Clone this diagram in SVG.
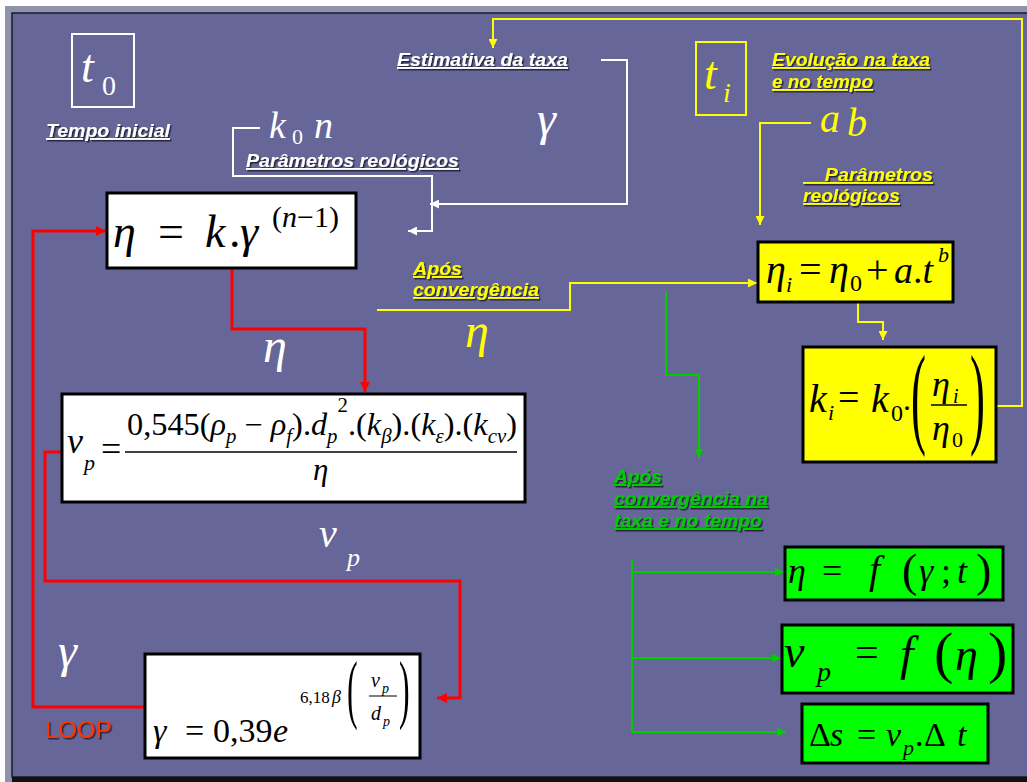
<svg xmlns="http://www.w3.org/2000/svg" width="1027" height="782" viewBox="0 0 1027 782">
<defs>
<style>
.lbl{font-family:"Liberation Sans",Arial,sans-serif;font-weight:bold;font-style:italic;font-size:19px;text-decoration:underline}
.w{fill:#ffffff}.y{fill:#ffff00}.g{fill:#00cc00}
.m{font-family:"Liberation Serif","Times New Roman",serif;font-style:italic}
.u{font-style:normal}
.k{fill:#000}
.box{stroke:#000;stroke-width:3}
.cw{fill:none;stroke:#ffffff;stroke-width:2}
.cy{fill:none;stroke:#ffff00;stroke-width:2}
.cr{fill:none;stroke:#ff0000;stroke-width:3}
.cg{fill:none;stroke:#00cc00;stroke-width:2}
</style>
<filter id="sh" x="-5%" y="-20%" width="115%" height="160%"><feDropShadow dx="1.5" dy="1.5" stdDeviation="0.4" flood-color="#1c1c30" flood-opacity="0.9"/></filter>
<marker id="aw" viewBox="0 0 10 10" refX="10" refY="5" markerWidth="9" markerHeight="9" markerUnits="userSpaceOnUse" orient="auto"><path d="M0,0 L10,5 L0,10 z" fill="#ffffff"/></marker>
<marker id="ay" viewBox="0 0 10 10" refX="10" refY="5" markerWidth="9" markerHeight="9" markerUnits="userSpaceOnUse" orient="auto"><path d="M0,0 L10,5 L0,10 z" fill="#ffff00"/></marker>
<marker id="ar" viewBox="0 0 10 10" refX="10" refY="5" markerWidth="10" markerHeight="10" markerUnits="userSpaceOnUse" orient="auto"><path d="M0,0 L10,5 L0,10 z" fill="#ff0000"/></marker>
<marker id="ag" viewBox="0 0 10 10" refX="10" refY="5" markerWidth="9" markerHeight="9" markerUnits="userSpaceOnUse" orient="auto"><path d="M0,0 L10,5 L0,10 z" fill="#00cc00"/></marker>
</defs>

<rect width="1027" height="782" fill="#ffffff"/>
<rect x="5" y="6" width="1022" height="776" fill="#8e93ab"/>
<rect x="12" y="13" width="1020" height="764" fill="#666699" stroke="#1a1a2e" stroke-width="1.5"/>
<rect x="12" y="777" width="1015" height="5" fill="#111111"/>

<g id="connectors">
  <path class="cy" d="M996,406 H1022 V19 H493 V48" marker-end="url(#ay)"/>
  <path class="cw" d="M601,60 H627 V204 H430" marker-end="url(#aw)"/>
  <path class="cw" d="M260,128 H233 V176 H432 V231 H408" marker-end="url(#aw)"/>
  <path class="cy" d="M811,123 H760 V225" marker-end="url(#ay)"/>
  <path class="cy" d="M377,310 H570 V283 H757" marker-end="url(#ay)"/>
  <path class="cy" d="M858,303 V322 H883 V340" marker-end="url(#ay)"/>
  <path class="cg" d="M666,291 V375 H699 V458" marker-end="url(#ag)"/>
  <path class="cg" d="M632,559 V732"/>
  <path class="cg" d="M632,572 H784" marker-end="url(#ag)"/>
  <path class="cg" d="M632,658 H781" marker-end="url(#ag)"/>
  <path class="cg" d="M632,732 H786" marker-end="url(#ag)"/>
  <path class="cr" d="M232,268 V329 H365 V392" marker-end="url(#ar)"/>
  <path class="cr" d="M145,707 H33 V231 H106" marker-end="url(#ar)"/>
  <path class="cr" d="M62,452 H45 V581 H460 V698 H437" marker-end="url(#ar)"/>
</g>

<g id="t0">
  <rect x="72" y="34" width="62" height="73" fill="none" stroke="#ffffff" stroke-width="2"/>
  <text class="m w"><tspan x="81" y="82" font-size="46">t</tspan><tspan class="u" x="102" y="95" font-size="28">0</tspan></text>
</g>
<g id="tempo-inicial"><text class="lbl w" x="46" y="137" textLength="124" lengthAdjust="spacingAndGlyphs" filter="url(#sh)">Tempo inicial</text></g>

<g id="k0n">
  <text class="m w"><tspan x="269" y="138" font-size="38">k</tspan><tspan class="u" x="292" y="144" font-size="22">0</tspan><tspan x="314" y="138" font-size="38">n</tspan></text>
  <text class="lbl w" x="246" y="167" textLength="213" lengthAdjust="spacingAndGlyphs" filter="url(#sh)">Parâmetros reológicos</text>
</g>

<g id="estimativa">
  <text class="lbl w" x="397" y="66" textLength="171" lengthAdjust="spacingAndGlyphs" filter="url(#sh)">Estimativa da taxa</text>
  <text class="m w" x="537" y="135" font-size="48">γ</text>
</g>

<g id="ti">
  <rect x="696" y="42" width="50" height="73" fill="none" stroke="#ffff00" stroke-width="2"/>
  <text class="m y"><tspan x="704" y="89" font-size="46">t</tspan><tspan x="723" y="102" font-size="28">i</tspan></text>
</g>
<g id="evolucao">
  <text class="lbl y" x="772" y="66" textLength="158" lengthAdjust="spacingAndGlyphs" filter="url(#sh)">Evolução na taxa</text>
  <text class="lbl y" x="772" y="88" textLength="101" lengthAdjust="spacingAndGlyphs" filter="url(#sh)">e no tempo</text>
</g>
<g id="ab">
  <text class="m y" font-size="40"><tspan x="820" y="132">a</tspan><tspan x="847" y="136">b</tspan></text>
  <text class="lbl y" x="803" y="181" xml:space="preserve" textLength="130" lengthAdjust="spacingAndGlyphs" filter="url(#sh)">    Parâmetros</text>
  <text class="lbl y" x="803" y="202" textLength="97" lengthAdjust="spacingAndGlyphs" filter="url(#sh)">reológicos</text>
</g>

<g id="eta-box">
  <rect class="box" x="107" y="193" width="249" height="75" fill="#ffffff"/>
  <text class="m k" font-size="46" y="247"><tspan x="113">η</tspan><tspan class="u" x="158">=</tspan><tspan x="205">k</tspan><tspan class="u" x="229">.</tspan><tspan x="240">γ</tspan></text>
  <text class="m k" font-size="30" y="227"><tspan class="u" x="272">(</tspan><tspan>n</tspan><tspan class="u">−1)</tspan></text>
</g>

<g id="eta-label"><text class="m w" x="263" y="362" font-size="48">η</text></g>

<g id="apos-conv">
  <text class="lbl y" x="413" y="275" textLength="49" lengthAdjust="spacingAndGlyphs" filter="url(#sh)">Após</text>
  <text class="lbl y" x="413" y="296" textLength="126" lengthAdjust="spacingAndGlyphs" filter="url(#sh)">convergência</text>
  <text class="m y" x="465" y="347" font-size="48">η</text>
</g>

<g id="vp-box">
  <rect class="box" x="62" y="394" width="463" height="108" fill="#ffffff"/>
  <text class="m k"><tspan x="67" y="453" font-size="36">v</tspan><tspan x="84" y="470" font-size="22">p</tspan><tspan class="u" x="101" y="461" font-size="36">=</tspan></text>
  <line x1="125" y1="452" x2="517" y2="452" stroke="#000" stroke-width="1.5"/>
  <text class="m k" x="127" y="435" font-size="31" textLength="390" lengthAdjust="spacingAndGlyphs"><tspan class="u">0,545(</tspan>ρ<tspan dy="8" font-size="20">p</tspan><tspan class="u" dy="-8"> − </tspan>ρ<tspan dy="8" font-size="20">f</tspan><tspan class="u" dy="-8">).</tspan>d<tspan dy="8" font-size="20">p</tspan><tspan class="u" dy="-31" font-size="20">2</tspan><tspan class="u" dy="23">.(</tspan>k<tspan dy="8" font-size="20">β</tspan><tspan class="u" dy="-8">).(</tspan>k<tspan dy="8" font-size="20">ε</tspan><tspan class="u" dy="-8">).(</tspan>k<tspan dy="8" font-size="20">cv</tspan><tspan class="u" dy="-8">)</tspan></text>
  <text class="m k" x="313" y="480" font-size="31">η</text>
</g>

<g id="vp-label"><text class="m w"><tspan x="319" y="547" font-size="40">v</tspan><tspan x="347" y="566" font-size="26">p</tspan></text></g>

<g id="gamma-label"><text class="m w" x="58" y="667" font-size="48">γ</text></g>
<g id="loop"><text x="45" y="738" font-family="Liberation Sans, Arial, sans-serif" font-size="24" fill="#ff3300" filter="url(#sh)">LOOP</text></g>

<g id="gamma-box">
  <rect class="box" x="145" y="654" width="275" height="104" fill="#ffffff"/>
  <text class="m k" font-size="34" y="742"><tspan x="153">γ</tspan><tspan class="u" x="185">=</tspan><tspan class="u" x="213">0,39</tspan><tspan x="273">e</tspan></text>
  <text class="m k" y="703"><tspan class="u" x="300" font-size="17">6,18</tspan><tspan x="332" font-size="18">β</tspan></text>
  <text class="m k u" font-size="76" transform="translate(347,714) scale(0.42,1)">(</text>
  <text class="m k u" font-size="76" transform="translate(399,714) scale(0.42,1)">)</text>
  <text class="m k"><tspan x="371" y="687" font-size="20">v</tspan><tspan x="382" y="693" font-size="14">p</tspan></text>
  <line x1="369" y1="696" x2="397" y2="696" stroke="#000" stroke-width="1"/>
  <text class="m k"><tspan x="371" y="720" font-size="20">d</tspan><tspan x="383" y="726" font-size="14">p</tspan></text>
</g>

<g id="etai-box">
  <rect class="box" x="758" y="242" width="195" height="60" fill="#ffff00"/>
  <text class="m k" font-size="40" y="283"><tspan x="766">η</tspan><tspan x="786" y="292" font-size="22">i</tspan><tspan class="u" x="799" y="283">=</tspan><tspan x="829">η</tspan><tspan class="u" x="850" y="291" font-size="24">0</tspan><tspan class="u" x="866" y="283">+</tspan><tspan x="894" font-size="38">a</tspan><tspan class="u" font-size="38">.</tspan><tspan font-size="38">t</tspan><tspan x="938" y="262" font-size="22">b</tspan></text>
</g>

<g id="ki-box">
  <rect class="box" x="803" y="347" width="193" height="115" fill="#ffff00"/>
  <text class="m k" font-size="40" y="412"><tspan x="809">k</tspan><tspan x="828" y="420" font-size="22">i</tspan><tspan class="u" x="838" y="410" font-size="38">=</tspan><tspan x="871" y="412">k</tspan><tspan class="u" x="891" y="421" font-size="24">0</tspan><tspan class="u" x="903" y="410" font-size="32">.</tspan></text>
  <text class="m k u" font-size="112" transform="translate(911,433) scale(0.4,1)">(</text>
  <text class="m k u" font-size="112" transform="translate(970,433) scale(0.4,1)">)</text>
  <text class="m k"><tspan x="932" y="396" font-size="36">η</tspan><tspan x="953" y="403" font-size="20">i</tspan></text>
  <line x1="931" y1="405" x2="967" y2="405" stroke="#000" stroke-width="1.5"/>
  <text class="m k"><tspan x="932" y="440" font-size="36">η</tspan><tspan class="u" x="952" y="447" font-size="22">0</tspan></text>
</g>

<g id="apos-conv-taxa">
  <text class="lbl g" x="614" y="483" textLength="48" lengthAdjust="spacingAndGlyphs" filter="url(#sh)">Após</text>
  <text class="lbl g" x="614" y="505" textLength="154" lengthAdjust="spacingAndGlyphs" filter="url(#sh)">convergência na</text>
  <text class="lbl g" x="614" y="527" textLength="148" lengthAdjust="spacingAndGlyphs" filter="url(#sh)">taxa e no tempo</text>
</g>

<g id="green-eta">
  <rect class="box" x="785" y="547" width="218" height="53" fill="#00ff00"/>
  <text class="m k" font-size="36" y="583"><tspan x="788">η</tspan><tspan class="u" x="822">=</tspan><tspan x="869" font-size="40">f</tspan><tspan class="u" x="902" y="586" font-size="46">(</tspan><tspan x="919" y="583">γ</tspan><tspan class="u" x="941">;</tspan><tspan x="957">t</tspan><tspan class="u" x="976" y="586" font-size="46">)</tspan></text>
</g>
<g id="green-vp">
  <rect class="box" x="782" y="625" width="231" height="68" fill="#00ff00"/>
  <text class="m k" font-size="46" y="667"><tspan x="784">v</tspan><tspan x="817" y="681" font-size="28">p</tspan><tspan class="u" x="855" y="666" font-size="42">=</tspan><tspan x="900" y="670" font-size="48">f</tspan><tspan class="u" x="934" y="672" font-size="58">(</tspan><tspan x="955" y="670" font-size="46">η</tspan><tspan class="u" x="988" y="672" font-size="58">)</tspan></text>
</g>
<g id="green-ds">
  <rect class="box" x="802" y="704" width="186" height="59" fill="#00ff00"/>
  <text class="m k" font-size="34" y="746"><tspan class="u" x="809">Δ</tspan><tspan x="830">s</tspan><tspan class="u" x="857">=</tspan><tspan x="886">v</tspan><tspan x="903" y="755" font-size="22">p</tspan><tspan class="u" x="915" y="746">.</tspan><tspan class="u" x="924">Δ</tspan><tspan x="957">t</tspan></text>
</g>
</svg>
